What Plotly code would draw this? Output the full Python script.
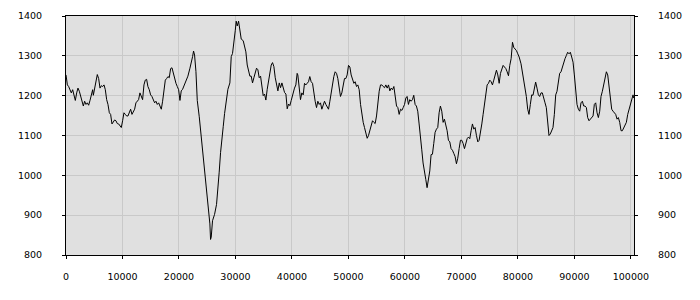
import plotly.graph_objects as go

x_vals = [0, 240, 470, 710, 940, 1180, 1410, 1650, 1890, 2120, 2360, 2590, 2830, 3070, 3300, 3540, 3770, 4010, 4250, 4480, 4720, 4840, 5070, 5310, 5540, 5780, 6020, 6250, 6490, 6730, 6960, 7200, 7430, 7670, 7900, 8140, 8370, 8610, 8840, 9080, 9320, 9550, 9790, 10020, 10260, 10500, 10730, 10970, 11200, 11440, 11680, 11910, 12150, 12380, 12620, 12850, 13090, 13330, 13560, 13800, 14030, 14270, 14500, 14740, 14980, 15210, 15450, 15690, 15920, 16160, 16400, 16630, 16870, 17100, 17340, 17580, 17810, 18050, 18280, 18520, 18760, 18990, 19230, 19470, 19700, 19940, 20170,
          20400, 20640, 20990, 21350, 21580, 21940, 22170, 22410, 22580, 22760, 23000, 23240, 23590, 23940, 24300, 24530, 24770, 25000, 25240, 25470, 25590, 25710, 25940, 26300, 26650, 26890, 27120, 27360, 27600, 27830, 28070, 28420, 28660, 29010, 29250, 29480, 29720, 29960, 30130, 30310, 30550, 30780, 31020, 31370, 31610, 31840, 32080, 32310, 32550, 32790, 33020, 33260, 33500, 33730, 33970, 34200, 34440, 34680, 34910, 35150, 35380, 35620, 35860, 36090, 36330, 36560, 36800, 37040, 37270, 37510, 37750, 37980, 38220, 38450, 38690, 38930, 39160, 39400, 39630, 39870,
          40210, 40450, 40690, 40920, 41040, 41280, 41510, 41750, 41990, 42220, 42460, 42690, 42930, 43160, 43400, 43640, 43870, 44110, 44350, 44580, 44820, 45050, 45290, 45530, 45760, 46000, 46230, 46470, 46710, 46940, 47180, 47410, 47650, 47890, 48120, 48360, 48590, 48830, 49070, 49300, 49540, 49770, 50010, 50250, 50480, 50720, 50960, 51190, 51430, 51660, 51900, 52140, 52370, 52610, 52840, 53080, 53320, 53550, 53790, 54020, 54260, 54500, 54730, 54970, 55210, 55440, 55680, 55910, 56150, 56390, 56620, 56860, 57090, 57330, 57570, 57800, 58040, 58280, 58510, 58750, 58980, 59220, 59460, 59690, 59930, 60160,
          60380, 60620, 60850, 61090, 61330, 61560, 61800, 62030, 62270, 62510, 62740, 62980, 63210, 63450, 63690, 63920, 64160, 64400, 64630, 64870, 65100, 65340, 65580, 65810, 66050, 66280, 66520, 66760, 66990, 67230, 67470, 67700, 67940, 68170, 68410, 68650, 68880, 69120, 69350, 69590, 69830, 70060, 70300, 70540, 70770, 71010, 71240, 71480, 71720, 71950, 72190, 72420, 72660, 72900, 73130, 73370, 73610, 73840, 74080, 74310, 74550, 74790, 75020, 75260, 75490, 75730, 75970, 76200, 76440, 76680, 76910, 77150, 77380, 77620, 77860, 78090, 78330, 78560, 78800, 79040, 79270, 79510, 79740, 79980, 80220,
          80550, 80780, 81020, 81260, 81490, 81730, 81960, 82200, 82440, 82670, 82910, 83140, 83380, 83620, 83850, 84090, 84320, 84560, 84800, 85030, 85270, 85500, 85740, 85980, 86210, 86450, 86690, 86920, 87160, 87390, 87630, 87870, 88100, 88340, 88580, 88810, 89050, 89280, 89520, 89760, 89990, 90230, 90460, 90700, 90940, 91170, 91410, 91650, 91880, 92120, 92350, 92590, 92830, 93060, 93300, 93530, 93770, 94010, 94240, 94480, 94710, 94950, 95190, 95420, 95660, 95900, 96130, 96370, 96600, 96840, 97080, 97310, 97550, 97780, 98020, 98260, 98490, 98730, 98970, 99200, 99440, 99670, 99910, 100150, 100380, 100500]

y_vals = [1252, 1227, 1223, 1215, 1207, 1215, 1202, 1188, 1207, 1219, 1211, 1198, 1190, 1174, 1186, 1178, 1182, 1176, 1188, 1202, 1215, 1201, 1219, 1231, 1253, 1243, 1219, 1225, 1223, 1227, 1215, 1190, 1178, 1157, 1153, 1129, 1133, 1139, 1137, 1130, 1129, 1125, 1120, 1137, 1157, 1153, 1149, 1149, 1157, 1166, 1153, 1161, 1166, 1182, 1186, 1190, 1207, 1198, 1190, 1227, 1239, 1241, 1223, 1215, 1202, 1198, 1190, 1182, 1186, 1178, 1182, 1174, 1166, 1186, 1211, 1239, 1243, 1248, 1245, 1268, 1270, 1256, 1239, 1231, 1223, 1215, 1188,
          1212, 1216, 1228, 1241, 1249, 1269, 1281, 1298, 1312, 1302, 1261, 1188, 1147, 1094, 1049, 1008, 980, 943, 898, 878, 839, 845, 886, 902, 927, 984, 1008, 1057, 1098, 1122, 1155, 1188, 1216, 1232, 1298, 1306, 1330, 1363, 1387, 1375, 1387, 1367, 1342, 1338, 1326, 1310, 1277, 1261, 1249, 1249, 1232, 1245, 1257, 1269, 1265, 1245, 1249, 1224, 1200, 1204, 1189, 1216, 1236, 1261, 1277, 1283, 1273, 1245, 1228, 1212, 1232, 1220, 1232, 1220, 1208, 1204, 1167, 1179, 1175, 1188,
          1211, 1219, 1227, 1256, 1252, 1227, 1190, 1207, 1202, 1231, 1227, 1231, 1235, 1248, 1235, 1231, 1202, 1186, 1170, 1186, 1178, 1182, 1166, 1174, 1186, 1178, 1170, 1166, 1186, 1211, 1223, 1248, 1260, 1256, 1243, 1219, 1198, 1207, 1223, 1243, 1243, 1252, 1276, 1272, 1252, 1243, 1231, 1235, 1223, 1227, 1215, 1178, 1153, 1133, 1120, 1108, 1093, 1100, 1112, 1129, 1137, 1133, 1130, 1149, 1182, 1211, 1227, 1227, 1223, 1220, 1227, 1219, 1227, 1212, 1219, 1215, 1223, 1198, 1174, 1170, 1153, 1166, 1163, 1170, 1178, 1194,
          1198, 1178, 1190, 1186, 1190, 1201, 1178, 1174, 1161, 1129, 1088, 1064, 1031, 1015, 990, 969, 994, 1011, 1052, 1053, 1080, 1108, 1116, 1120, 1157, 1174, 1161, 1133, 1141, 1129, 1112, 1088, 1084, 1067, 1063, 1055, 1047, 1029, 1043, 1067, 1088, 1088, 1080, 1067, 1080, 1092, 1096, 1092, 1112, 1129, 1116, 1120, 1100, 1084, 1088, 1104, 1129, 1153, 1174, 1202, 1227, 1231, 1239, 1235, 1227, 1239, 1256, 1264, 1252, 1231, 1256, 1264, 1276, 1272, 1268, 1260, 1250, 1276, 1293, 1334, 1321, 1317, 1313, 1305, 1297,
          1280, 1260, 1239, 1223, 1198, 1166, 1153, 1178, 1202, 1201, 1219, 1234, 1219, 1202, 1198, 1207, 1207, 1190, 1182, 1170, 1129, 1100, 1104, 1112, 1120, 1153, 1202, 1211, 1231, 1256, 1260, 1272, 1284, 1293, 1301, 1309, 1305, 1309, 1297, 1284, 1252, 1211, 1178, 1166, 1161, 1182, 1186, 1174, 1174, 1170, 1145, 1137, 1141, 1145, 1149, 1178, 1182, 1157, 1145, 1161, 1198, 1211, 1227, 1248, 1260, 1252, 1227, 1198, 1166, 1161, 1157, 1153, 1141, 1145, 1133, 1112, 1112, 1120, 1129, 1133, 1153, 1166, 1174, 1190, 1202, 1194]

y_range = [800, 1400]
x_range = [0, 100550]

font = dict(family="DejaVu Sans", size=9.5, color="#000000")

fig = go.Figure()
fig.add_trace(go.Scatter(x=x_vals, y=y_vals, mode="lines",
                         line=dict(color="#000000", width=1),
                         showlegend=False, hoverinfo="skip"))
# same series on the right-hand axis, drawn transparent so the axis renders
fig.add_trace(go.Scatter(x=x_vals, y=y_vals, mode="lines", yaxis="y2",
                         line=dict(color="rgba(0,0,0,0)", width=1),
                         showlegend=False, hoverinfo="skip"))

fig.update_layout(
    width=700, height=300,
    margin=dict(l=66, r=66, t=10, b=45),
    paper_bgcolor="#ffffff",
    plot_bgcolor="#e0e0e0",
    font=font,
    xaxis=dict(range=x_range, dtick=10000, tick0=0, tickformat="d",
               showgrid=True, gridcolor="#c9c9c9", gridwidth=1,
               zeroline=False, showline=True, linecolor="#000000", linewidth=1,
               mirror=True, ticks="outside", ticklen=3, tickcolor="#000000",
               ticklabelstandoff=10, tickfont=font),
    yaxis=dict(range=y_range, dtick=100, tick0=800,
               showgrid=True, gridcolor="#c9c9c9", gridwidth=1,
               zeroline=False, showline=True, linecolor="#000000", linewidth=1,
               mirror=True, ticks="outside", ticklen=3, tickcolor="#000000",
               ticklabelstandoff=18, tickfont=font),
    yaxis2=dict(range=y_range, dtick=100, tick0=800, overlaying="y", side="right",
                showgrid=False, zeroline=False, showline=False,
                ticks="outside", ticklen=3, tickcolor="#000000",
                ticklabelstandoff=18, tickfont=font),
)

fig.write_html("out.html")
